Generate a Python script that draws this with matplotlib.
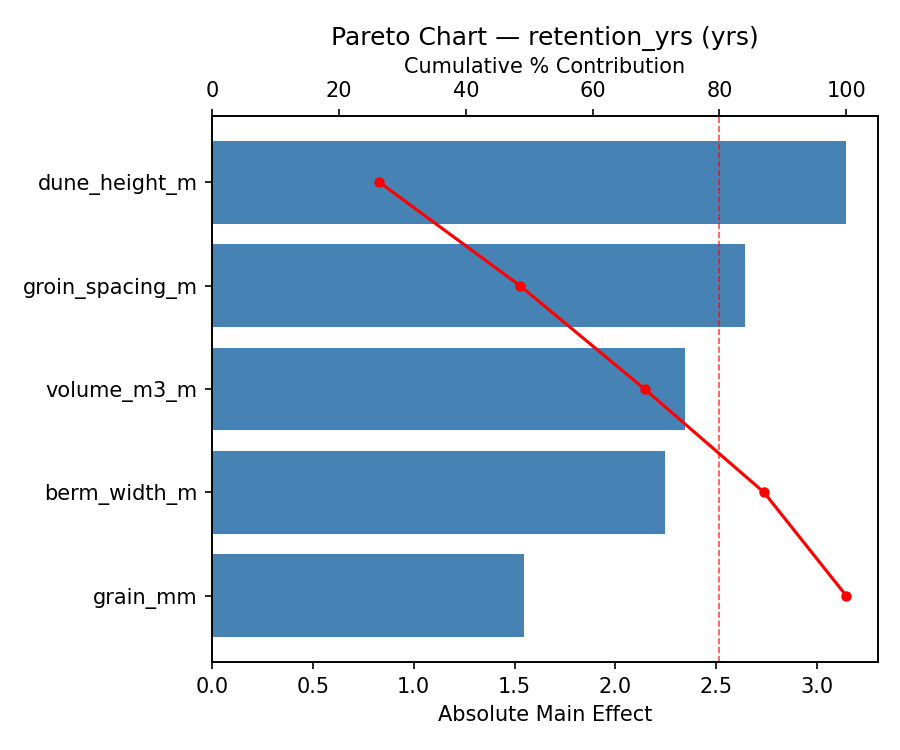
import matplotlib.pyplot as plt
import numpy as np

# Main effects for retention_yrs
factors = ['dune_height_m', 'groin_spacing_m', 'volume_m3_m', 'berm_width_m', 'grain_mm']
effects = [3.145, 2.643, 2.345, 2.246, 1.547]

cum_pct = np.cumsum(effects) / np.sum(effects) * 100
y = np.arange(len(factors))

fig, ax = plt.subplots(figsize=(6, 5), dpi=150)
fig.subplots_adjust(left=0.2356, right=0.9756, top=0.8453, bottom=0.1173)

ax.barh(y, effects, height=0.8, color='steelblue')
ax.set_yticks(y)
ax.set_yticklabels(factors)
ax.invert_yaxis()
ax.set_xlim(0, max(effects) * 1.05)
ax.set_xlabel('Absolute Main Effect')

# Cumulative % on top axis
ax2 = ax.twiny()
ax2.plot(cum_pct, y, color='red', marker='o', markersize=4, linewidth=1.5)
ax2.axvline(80, color='red', linestyle='--', linewidth=0.8, alpha=0.7)
ax2.set_xlim(0, 105)
ax2.set_xlabel('Cumulative % Contribution')
ax2.set_title('Pareto Chart — retention_yrs (yrs)')

plt.savefig('out.png')
